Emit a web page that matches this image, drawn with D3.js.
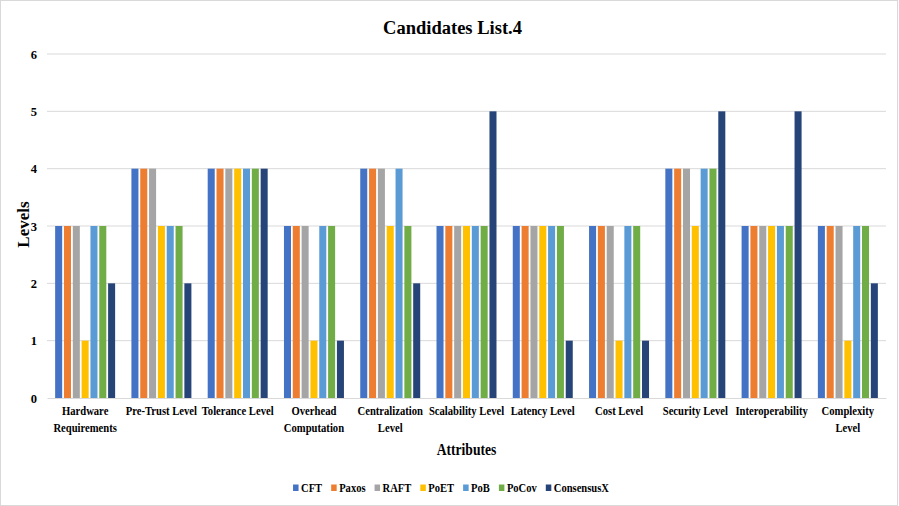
<!DOCTYPE html>
<html><head><meta charset="utf-8">
<script src="https://cdn.jsdelivr.net/npm/d3@7"></script>
<style>body{margin:0;background:#fff}svg{display:block}</style>
</head><body>
<svg id="c" width="899" height="506"></svg>
<script>
const categories = [["Hardware","Requirements"],["Pre-Trust Level"],["Tolerance Level"],["Overhead","Computation"],["Centralization","Level"],["Scalability Level"],["Latency Level"],["Cost Level"],["Security Level"],["Interoperability"],["Complexity","Level"]];
const seriesNames = ["CFT","Paxos","RAFT","PoET","PoB","PoCov","ConsensusX"];
const seriesColors = ["#4472C4","#ED7D31","#A5A5A5","#FFC000","#5B9BD5","#70AD47","#264478"];
const CFT        = [3,4,4,3,4,3,3,3,4,3,3];
const Paxos      = [3,4,4,3,4,3,3,3,4,3,3];
const RAFT       = [3,4,4,3,4,3,3,3,4,3,3];
const PoET       = [1,3,4,1,3,3,3,1,3,3,1];
const PoB        = [3,3,4,3,4,3,3,3,4,3,3];
const PoCov      = [3,3,4,3,3,3,3,3,4,3,3];
const ConsensusX = [2,2,4,1,2,5,1,1,5,5,2];
const yTicks = [0,1,2,3,4,5,6];
const seriesValues = [CFT,Paxos,RAFT,PoET,PoB,PoCov,ConsensusX];

const svg = d3.select("#c");
const font = "'Liberation Serif','Times New Roman',serif";
const SQ = 0.85;
svg.append("rect").attr("x",0.5).attr("y",0.5).attr("width",897).attr("height",505)
  .attr("fill","#fff").attr("stroke","#d9d9d9");

const L=47, R=886, T=54, B=398;
const x0 = d3.scaleBand().domain(d3.range(categories.length)).range([L,R]).paddingInner(0.19).paddingOuter(0.095);
const x1 = d3.scaleBand().domain(d3.range(seriesNames.length)).range([0,x0.bandwidth()]).padding(0);
const y = d3.scaleLinear().domain([0,6]).range([B,T]);

// gridlines
svg.append("g").selectAll("line").data(yTicks.filter(d=>d>0)).join("line")
  .attr("x1",L).attr("x2",R).attr("y1",d=>y(d)).attr("y2",d=>y(d))
  .attr("stroke","#d9d9d9").attr("stroke-width",1);

// y axis labels
const yAxis = d3.axisLeft(y).tickValues(yTicks).tickSize(0).tickPadding(10).tickFormat(d3.format("d"));
const ya = svg.append("g").attr("transform",`translate(${L},0)`).call(yAxis);
ya.select(".domain").remove();
ya.selectAll("text").attr("font-family",font).attr("font-weight","bold").attr("font-size",12.5).attr("fill","#000");

// bars
const groups = svg.append("g").selectAll("g").data(categories.map((c,i)=>i)).join("g")
  .attr("transform",i=>`translate(${x0(i)},0)`);
groups.selectAll("rect").data(i=>seriesValues.map((s,k)=>({k,v:s[i]}))).join("rect")
  .attr("x",d=>x1(d.k)+0.9).attr("width",x1.bandwidth()-1.8)
  .attr("y",d=>y(d.v)).attr("height",d=>y(0)-y(d.v))
  .attr("fill",d=>seriesColors[d.k]);

// x axis baseline
const xAxis = d3.axisBottom(x0).tickSize(0).tickFormat("");
const xa = svg.append("g").attr("transform",`translate(0,${B})`).call(xAxis);
xa.select(".domain").attr("stroke","#d9d9d9").attr("stroke-width",1.2);
// category labels
xa.selectAll(".tick").each(function(i){
  const t = d3.select(this).append("text").attr("font-family",font).attr("font-weight","bold")
    .attr("font-size",12.5).attr("fill","#000").attr("text-anchor","middle")
    .attr("transform",`scale(${SQ},1)`);
  categories[i].forEach((line,j)=>{
    t.append("tspan").attr("x",0).attr("y",17+j*17).text(line);
  });
});

// title
svg.append("text").attr("transform","translate(452.5,33.5) scale(0.975,1)").attr("text-anchor","middle")
  .attr("font-family",font).attr("font-weight","bold").attr("font-size",19).text("Candidates List.4");
// axis titles
svg.append("text").attr("transform",`translate(28.5,224.5) rotate(-90)`).attr("text-anchor","middle")
  .attr("font-family",font).attr("font-weight","bold").attr("font-size",17).text("Levels");
svg.append("text").attr("transform",`translate(466.5,455) scale(0.8,1)`).attr("text-anchor","middle")
  .attr("font-family",font).attr("font-weight","bold").attr("font-size",17).text("Attributes");

// legend
const lg = svg.append("g");
let lx = 0;
seriesNames.forEach((n,k)=>{
  const g = lg.append("g").attr("transform",`translate(${lx},0)`);
  g.append("rect").attr("x",0).attr("y",-7.5).attr("width",5.5).attr("height",6.5).attr("fill",seriesColors[k]);
  const t = g.append("text").attr("transform",`translate(8,0) scale(0.88,1)`).attr("font-family",font).attr("font-weight","bold")
    .attr("font-size",12).text(n);
  const w = t.node().getComputedTextLength()*0.88;
  lx += 8 + w + 9;
});
const totalW = lx - 9;
lg.attr("transform",`translate(${451-totalW/2},492)`);
</script>
</body></html>
